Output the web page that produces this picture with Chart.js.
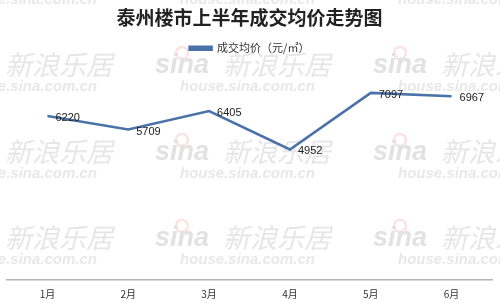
<!DOCTYPE html>
<html>
<head>
<meta charset="utf-8">
<script src="https://cdn.jsdelivr.net/npm/chart.js@4.4.0/dist/chart.umd.min.js"></script>
<style>
html,body{margin:0;padding:0;background:#fff;}
#wrap{width:500px;height:303px;position:relative;}
</style>
</head>
<body>
<div id="wrap"><canvas id="c" width="500" height="303"></canvas></div>
<script>
const categories = ["1月","2月","3月","4月","5月","6月"];
const avgPrice = [6220, 5709, 6405, 4952, 7097, 6967];
const seriesName = "成交均价（元/㎡）";
const chartTitle = "泰州楼市上半年成交均价走势图";

const CJK = '"Noto Sans CJK SC", "Noto Sans", sans-serif';

const watermark = {
  id: 'watermark',
  beforeDraw(chart) {
    const ctx = chart.ctx;
    ctx.save();
    const colsX = [-63, 155, 373];
    const rowsY = [-22, 65, 152, 238];
    ctx.textBaseline = 'middle';
    ctx.textAlign = 'left';
    for (const y of rowsY) {
      for (const x of colsX) {
        ctx.strokeStyle = 'rgba(250,228,228,1)';
        ctx.lineWidth = 2.5;
        ctx.beginPath();
        ctx.arc(x + 27, y - 12, 6, 0, Math.PI * 2);
        ctx.stroke();
        ctx.fillStyle = 'rgba(226,226,226,1)';
        ctx.font = 'italic bold 27px "Liberation Sans", sans-serif';
        ctx.fillText('sina', x, y + 1);
        ctx.fillStyle = 'rgba(230,230,230,1)';
        ctx.font = 'italic 27px ' + CJK;
        ctx.fillText('新浪乐居', x + 68, y);
        ctx.font = 'italic bold 15px "Liberation Sans", sans-serif';
        ctx.fillStyle = 'rgba(232,232,232,1)';
        ctx.fillText('house.sina.com.cn', x + 25, y + 22);
      }
    }
    ctx.restore();
  }
};

const valueLabels = {
  id: 'valueLabels',
  afterDatasetsDraw(chart) {
    const ctx = chart.ctx;
    const meta = chart.getDatasetMeta(0);
    ctx.save();
    ctx.fillStyle = '#222';
    ctx.font = '11px "Liberation Sans", "DejaVu Sans", sans-serif';
    ctx.textBaseline = 'middle';
    ctx.textAlign = 'left';
    meta.data.forEach((pt, i) => {
      ctx.fillText(String(chart.data.datasets[0].data[i]), pt.x + 8, pt.y + 2);
    });
    ctx.restore();
  }
};

new Chart(document.getElementById('c'), {
  type: 'line',
  data: {
    labels: categories,
    datasets: [{
      label: seriesName,
      data: avgPrice,
      borderColor: '#4a72a8',
      backgroundColor: '#4a72a8',
      borderWidth: 2.5,
      pointRadius: 0,
      pointHoverRadius: 0,
      tension: 0,
      fill: false
    }]
  },
  options: {
    responsive: false,
    animation: false,
    devicePixelRatio: 1,
    layout: { padding: { left: 7, right: 8, top: 4, bottom: -5 } },
    plugins: {
      title: {
        display: true,
        text: chartTitle,
        color: '#222',
        font: { family: CJK, size: 19, weight: 'bold' },
        padding: { top: 2, bottom: 6 }
      },
      legend: {
        display: true,
        labels: {
          boxWidth: 22,
          boxHeight: 3,
          color: '#333',
          font: { family: CJK, size: 11 },
          padding: 8
        }
      },
      tooltip: { enabled: false }
    },
    scales: {
      x: {
        offset: true,
        grid: { display: false, drawTicks: false },
        border: { display: true, color: '#b4b4b4', width: 1.5 },
        ticks: { color: '#333', font: { family: CJK, size: 10 }, padding: 8 }
      },
      y: {
        display: false,
        min: 0,
        max: 8200
      }
    }
  },
  plugins: [watermark, valueLabels]
});
</script>
</body>
</html>
